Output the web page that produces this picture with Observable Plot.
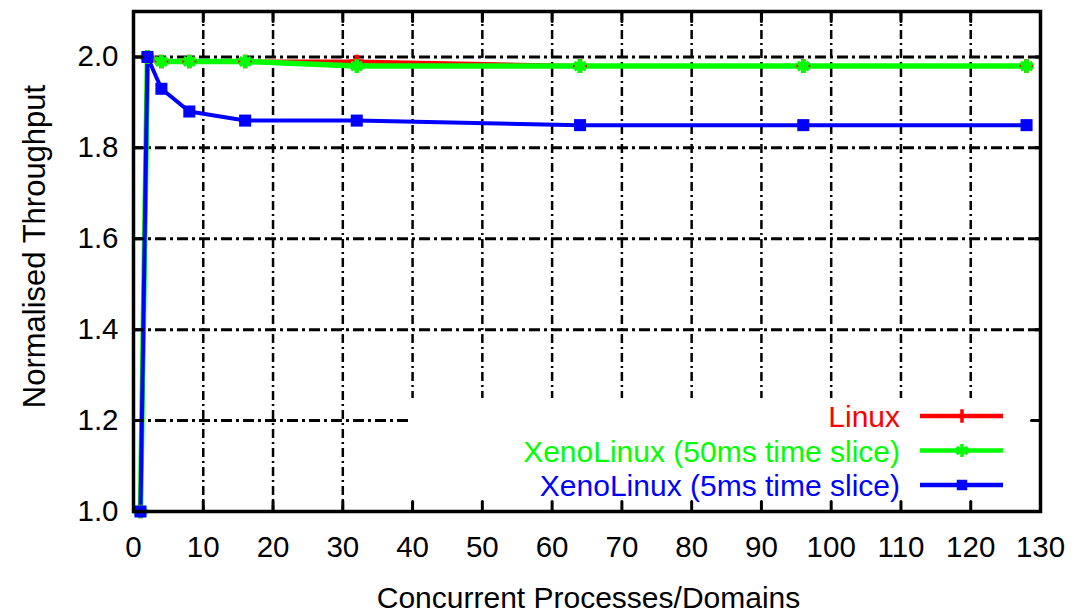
<!DOCTYPE html>
<html>
<head>
<meta charset="utf-8">
<script src="https://cdn.jsdelivr.net/npm/d3@7"></script>
<script src="https://cdn.jsdelivr.net/npm/@observablehq/plot@0.6"></script>
<style>
  html, body { margin: 0; padding: 0; background: #fff; }
  #chart { width: 1074px; height: 613px; }
</style>
</head>
<body>
<div id="chart"></div>
<script>
// ---- data ----
const procs = [1, 2, 4, 8, 16, 32, 64, 96, 128];
const linux = [1.0, 2.0, 1.99, 1.99, 1.99, 1.99, 1.98, 1.98, 1.98];
const xeno50 = [1.0, 2.0, 1.99, 1.99, 1.99, 1.98, 1.98, 1.98, 1.98];
const xeno5 = [1.0, 2.0, 1.93, 1.88, 1.86, 1.86, 1.85, 1.85, 1.85];
const seriesNames = ["Linux", "XenoLinux (50ms time slice)", "XenoLinux (5ms time slice)"];
const seriesColors = ["#ff0000", "#00ff00", "#0000ff"];
const xTicks = [0, 10, 20, 30, 40, 50, 60, 70, 80, 90, 100, 110, 120, 130];
const yTicks = [1.0, 1.2, 1.4, 1.6, 1.8, 2.0];
const xGrid = [10, 20, 30, 40, 50, 60, 70, 80, 90, 100, 110, 120];
const yGrid = [1.2, 1.4, 1.6, 1.8, 2.0];
const xTitle = "Concurrent Processes/Domains";
const yTitle = "Normalised Throughput";

const seriesValues = [linux, xeno50, xeno5];
const rows = seriesValues.flatMap((vals, s) =>
  procs.map((p, i) => ({procs: p, value: vals[i], series: seriesNames[s]})));
const bySeries = name => rows.filter(d => d.series === name);

const font = "'Liberation Sans', Arial, sans-serif";
const tickShape = {draw(ctx, l) { ctx.moveTo(0, 0); ctx.lineTo(0, -l); }};
const tickStyle = {stroke: "black", strokeWidth: 3, anchor: "start", shape: tickShape};

const lineWidths = [4, 5.5, 4];
const symbols = ["plus", "asterisk", "square"];

function legendMark(index, scales, values, dimensions) {
  const right = dimensions.width - dimensions.marginRight;
  const bottom = dimensions.height - dimensions.marginBottom;
  const g = d3.create("svg:g");
  g.append("rect")
    .attr("x", right - 630).attr("y", bottom - 113)
    .attr("width", 630).attr("height", 113)
    .attr("fill", "white");
  const glyphs = [d3.symbolPlus, d3.symbolAsterisk, d3.symbolSquare];
  const glyphSize = [60, 120, 110];
  seriesNames.forEach((name, i) => {
    const cy = bottom - 95 + i * 34.5;
    g.append("text")
      .attr("x", right - 140).attr("y", cy + 11)
      .attr("text-anchor", "end")
      .attr("font-family", font).attr("font-size", 30)
      .attr("fill", seriesColors[i])
      .text(name);
    g.append("line")
      .attr("x1", right - 120).attr("x2", right - 37)
      .attr("y1", cy).attr("y2", cy)
      .attr("stroke", seriesColors[i]).attr("stroke-width", 4.5);
    const p = g.append("path")
      .attr("transform", `translate(${right - 78},${cy})`)
      .attr("d", d3.symbol(glyphs[i], glyphSize[i])());
    if (i === 2) p.attr("fill", seriesColors[i]);
    else p.attr("fill", "none").attr("stroke", seriesColors[i]).attr("stroke-width", 3.5);
  });
  return g.node();
}

const chart = Plot.plot({
  width: 1074,
  height: 613,
  marginLeft: 133,
  marginRight: 34,
  marginTop: 11,
  marginBottom: 102,
  style: {fontFamily: font, background: "white", color: "black"},
  x: {domain: [0, 130]},
  y: {domain: [1.0, 2.1]},
  marks: [
    Plot.ruleX(xGrid, {stroke: "black", strokeWidth: 2.5, strokeDasharray: "9,4,2,4"}),
    Plot.ruleY(yGrid, {stroke: "black", strokeWidth: 3, strokeDasharray: "11,4,3,4"}),
    legendMark,
    ...seriesNames.map((name, i) =>
      Plot.line(bySeries(name), {x: "procs", y: "value", stroke: seriesColors[i], strokeWidth: lineWidths[i]})),
    ...seriesNames.map((name, i) =>
      i === 2
        ? Plot.dot(bySeries(name), {x: "procs", y: "value", symbol: symbols[i], r: 6.8, fill: seriesColors[i]})
        : Plot.dot(bySeries(name), {x: "procs", y: "value", symbol: symbols[i], r: i === 0 ? 4.5 : 6.5, stroke: seriesColors[i], strokeWidth: 4.5})),
    Plot.vector(xTicks, {x: d => d, frameAnchor: "bottom", length: 10, rotate: 0, ...tickStyle}),
    Plot.vector(xTicks, {x: d => d, frameAnchor: "top", length: 10, rotate: 180, ...tickStyle}),
    Plot.vector(yTicks, {y: d => d, frameAnchor: "left", length: 9, rotate: 90, ...tickStyle}),
    Plot.vector(yTicks, {y: d => d, frameAnchor: "right", length: 9, rotate: -90, ...tickStyle}),
    Plot.frame({stroke: "black", strokeWidth: 3.5}),
    Plot.axisX(xTicks, {tickSize: 0, tickPadding: 25, fontSize: 29.5, label: null, fill: "black"}),
    Plot.axisY(yTicks, {tickSize: 0, tickPadding: 15, fontSize: 29.5, tickFormat: d3.format(".1f"), label: null, fill: "black"}),
    Plot.text([xTitle], {frameAnchor: "bottom", dy: 87, dx: 1.5, textAnchor: "middle", lineAnchor: "middle", fontSize: 30, fill: "black"}),
    Plot.text([yTitle], {frameAnchor: "left", rotate: -90, dx: -98, dy: -15, textAnchor: "middle", lineAnchor: "middle", fontSize: 31, fill: "black"})
  ]
});
document.getElementById("chart").appendChild(chart);
</script>
</body>
</html>
